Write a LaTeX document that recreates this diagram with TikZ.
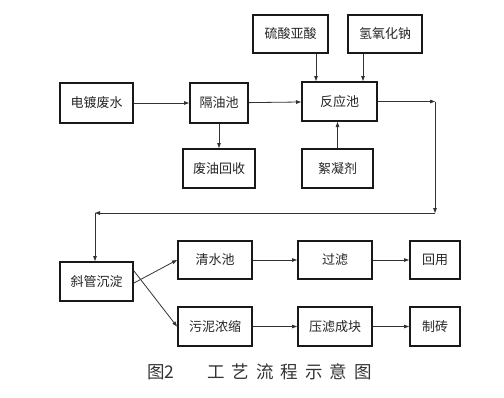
\documentclass[tikz,border=0pt]{standalone}
\usepackage{fontspec}
\newfontfamily\cjk{Noto Sans CJK SC}
\newfontfamily\capfont[LetterSpace=40]{Noto Sans CJK SC}
\usetikzlibrary{arrows.meta}
\begin{document}
\begin{tikzpicture}[x=1pt,y=-1pt,
  box/.style={draw=black!90,line width=2pt,inner sep=0pt,font=\cjk\fontsize{13}{15}\selectfont,text=black!85},
  arr/.style={draw=black!80,line width=0.8pt,-{Triangle[length=5pt,width=3.6pt]}},
  captext/.style={inner sep=0pt,font=\fontsize{17.5}{19}\selectfont,text=black!80}]
\useasboundingbox[fill=white] (0,0) rectangle (504,397);
\node[box,minimum width=73pt,minimum height=40pt] (dd) at (96.5,103) {电镀废水};
\node[box,minimum width=58pt,minimum height=40pt] (gy) at (219,103) {隔油池};
\node[box,minimum width=75pt,minimum height=39pt] (fy) at (339.5,101.5) {反应池};
\node[box,minimum width=75pt,minimum height=38pt] (ls) at (290.5,34) {硫酸亚酸};
\node[box,minimum width=74pt,minimum height=38pt] (na) at (385,34) {氢氧化钠};
\node[box,minimum width=72pt,minimum height=39pt] (fh) at (219,168.5) {废油回收};
\node[box,minimum width=71pt,minimum height=39pt] (xn) at (337.5,168.5) {絮凝剂};
\node[box,minimum width=73pt,minimum height=39pt] (xg) at (96.5,281.5) {斜管沉淀};
\node[box,minimum width=74pt,minimum height=38pt] (qs) at (215,260) {清水池};
\node[box,minimum width=74pt,minimum height=38pt] (gl) at (335,260) {过滤};
\node[box,minimum width=50pt,minimum height=38pt] (hy) at (435,260) {回用};
\node[box,minimum width=74pt,minimum height=39pt] (wn) at (215,326.5) {污泥浓缩};
\node[box,minimum width=74pt,minimum height=39pt] (yl) at (335,326.5) {压滤成块};
\node[box,minimum width=50pt,minimum height=39pt] (zz) at (435,326.5) {制砖};
\coordinate (c1) at (435,101.5);
\coordinate (c2) at (435,213);
\coordinate (c3) at (95,213);
\draw[arr] (dd) -- (gy);
\draw[arr] (gy) -- (fy);
\draw[arr] (gy) -- (fh);
\draw[arr] ([xshift=25.5pt]ls.south) -- ([xshift=25.5pt]ls.south |- fy.north);
\draw[arr] ([xshift=-22pt]na.south) -- ([xshift=-22pt]na.south |- fy.north);
\draw[arr] (xn.north) -- (xn.north |- fy.south);
\draw[arr] (fy.east) -- (c1);
\draw[arr] (c1) -- (c2);
\draw[arr] (c2) -- (c3);
\draw[arr] (c3) -- (c3 |- xg.north);
\draw[arr] ([yshift=-1.5pt]xg.east) -- (qs.west);
\draw[arr] ([yshift=10.5pt]xg.east) -- (wn.west);
\draw[arr] (qs) -- (gl);
\draw[arr] (gl) -- (hy);
\draw[arr] (wn) -- (yl);
\draw[arr] (yl) -- (zz);
\node[captext,anchor=west] (capa) at (147,372) {\cjk 图2};
\node[captext,anchor=west] (capb) at (207,372) {\capfont 工艺流程示意图};
\end{tikzpicture}
\end{document}
